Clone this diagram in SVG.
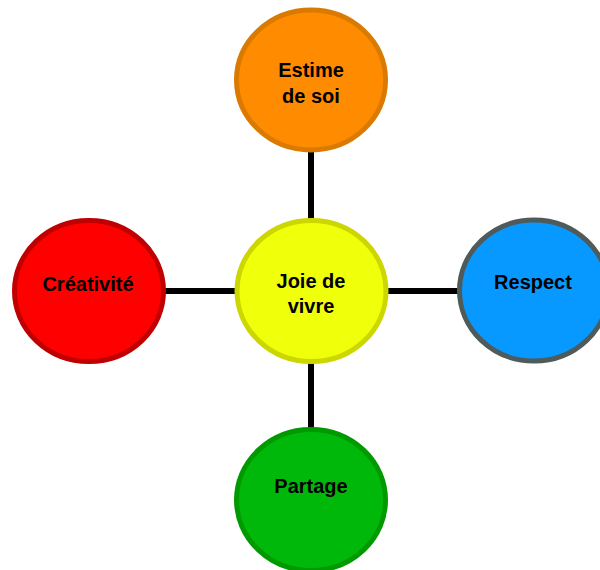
<svg xmlns="http://www.w3.org/2000/svg" width="600" height="570" viewBox="0 0 600 570">
<style>
.n{stroke-width:5}
.t{font-family:"Liberation Sans",Arial,sans-serif;font-weight:bold;font-size:20px;fill:#000;text-anchor:middle}
.c{stroke:#000;stroke-width:6;fill:none}
</style>
<rect width="600" height="570" fill="#fff"/>
<g id="connectors">
<line class="c" x1="311" y1="150" x2="311" y2="220"/>
<line class="c" x1="311" y1="362" x2="311" y2="430"/>
<line class="c" x1="164" y1="291" x2="236" y2="291"/>
<line class="c" x1="387" y1="291" x2="459" y2="291"/>
</g>
<g id="estime">
<ellipse class="n" cx="311" cy="80" rx="74.5" ry="70" fill="#FF8C00" stroke="#DB7A00"/>
<text class="t" x="311" y="77">Estime</text>
<text class="t" x="311" y="103">de soi</text>
</g>
<g id="joie">
<ellipse class="n" cx="311.5" cy="291" rx="74.5" ry="70.5" fill="#F0FF0A" stroke="#CCD600"/>
<text class="t" x="311" y="288">Joie de</text>
<text class="t" x="311" y="313">vivre</text>
</g>
<g id="respect">
<ellipse class="n" cx="534" cy="290.5" rx="74.5" ry="70.5" fill="#0799FF" stroke="#4F5B5B"/>
<text class="t" x="533" y="289">Respect</text>
</g>
<g id="creativite">
<ellipse class="n" cx="89" cy="291" rx="74.5" ry="70.5" fill="#FF0000" stroke="#C00000"/>
<text class="t" x="88" y="291">Créativité</text>
</g>
<g id="partage">
<ellipse class="n" cx="311" cy="500" rx="74.5" ry="70.5" fill="#00B80A" stroke="#009A00"/>
<text class="t" x="311" y="493">Partage</text>
</g>
</svg>
